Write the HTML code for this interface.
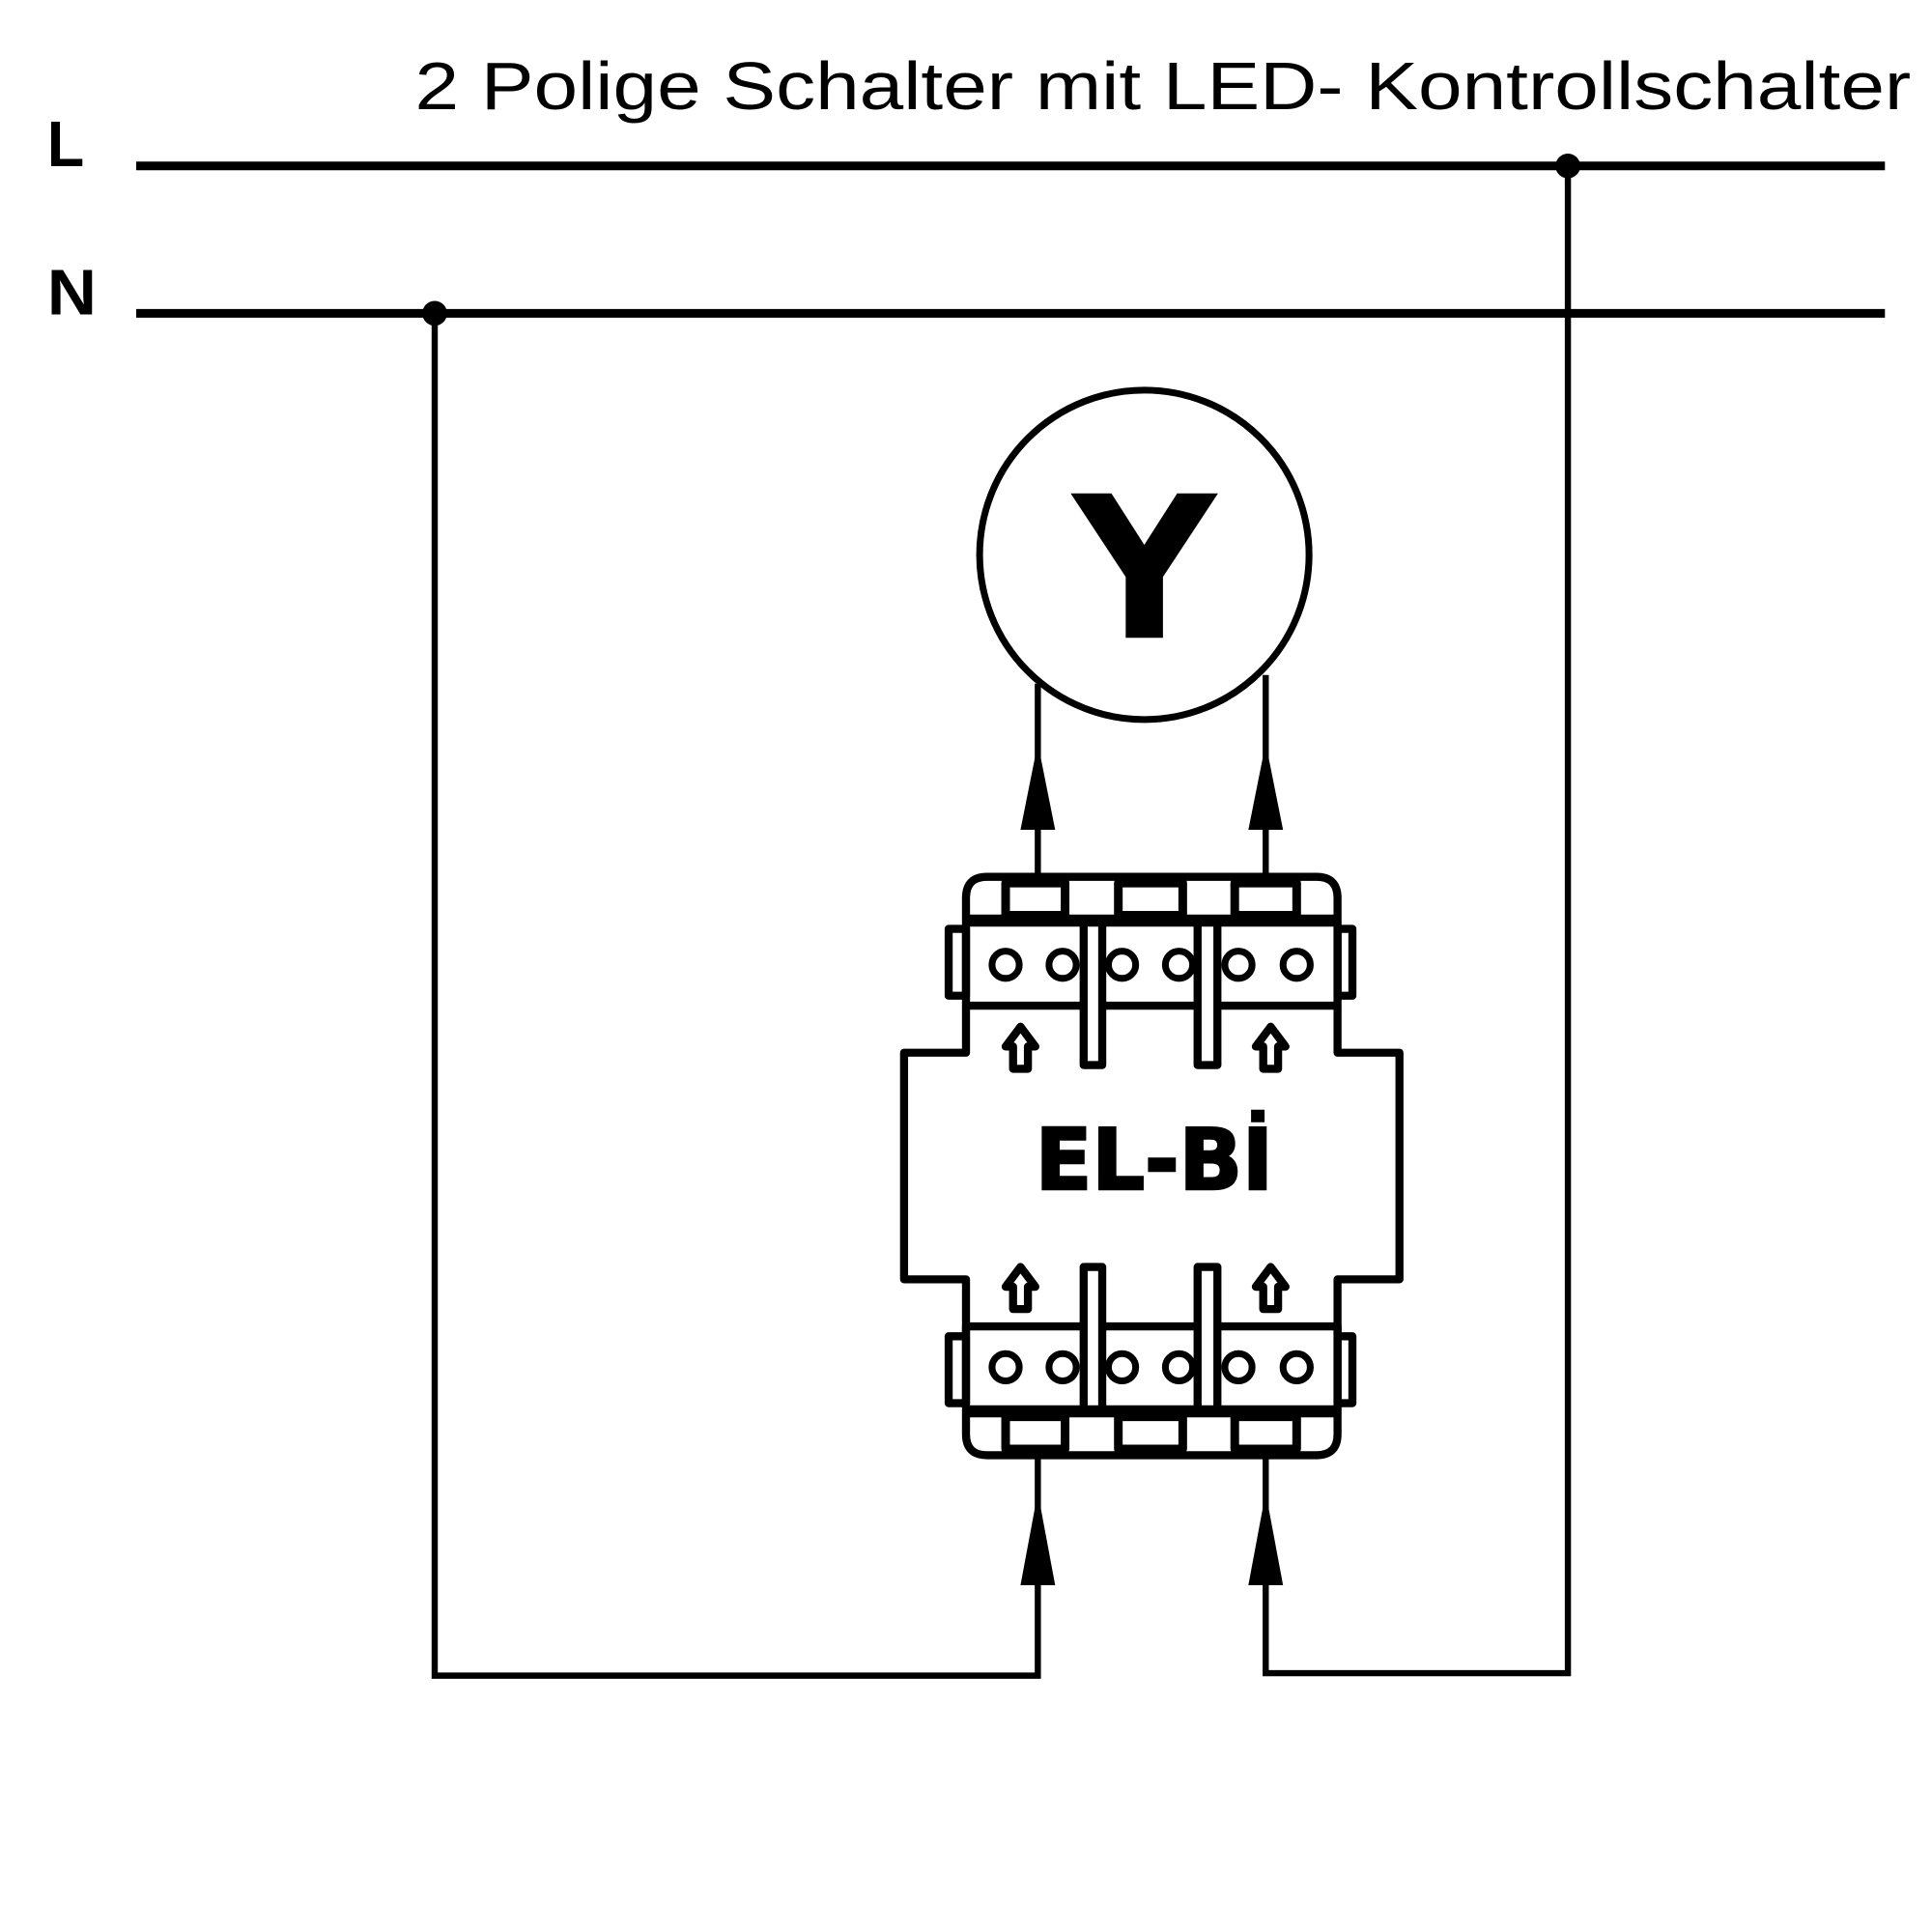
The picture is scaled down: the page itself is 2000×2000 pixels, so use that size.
<!DOCTYPE html>
<html><head><meta charset="utf-8"><style>
html,body{margin:0;padding:0;background:#fff;}
svg{display:block;}
</style></head><body>
<svg width="2000" height="2000" viewBox="0 0 1560 1560" xmlns="http://www.w3.org/2000/svg">
<rect width="1560" height="1560" fill="#fff"/>
<text x="335" y="88" font-family="Liberation Sans, sans-serif" font-size="54" textLength="1208" lengthAdjust="spacingAndGlyphs">2 Polige Schalter mit LED- Kontrollschalter</text>
<text x="38" y="134" font-family="Liberation Sans, sans-serif" font-weight="bold" font-size="52" textLength="30" lengthAdjust="spacingAndGlyphs">L</text>
<text x="38" y="254" font-family="Liberation Sans, sans-serif" font-weight="bold" font-size="52" textLength="40" lengthAdjust="spacingAndGlyphs">N</text>
<g stroke="#000" fill="none" stroke-width="7">
<line x1="110" y1="134" x2="1522" y2="134"/>
<line x1="110" y1="253" x2="1522" y2="253"/>
</g>
<circle cx="1266" cy="134" r="10" fill="#000"/>
<circle cx="351" cy="253" r="10" fill="#000"/>
<g stroke="#000" fill="none" stroke-width="5">
<polyline points="351,253 351,1353 838,1353 838,1175"/>
<polyline points="1266,134 1266,1351 1022,1351 1022,1175"/>
<line x1="838" y1="708" x2="838" y2="552"/>
<line x1="1022" y1="708" x2="1022" y2="545"/>
<circle cx="924" cy="448" r="133" stroke-width="5.5"/>
</g>
<g fill="#000">
<polygon points="838,600 824,670 852,670"/>
<polygon points="1022,600 1008,670 1036,670"/>
<polygon points="838,1205 824,1280 852,1280"/>
<polygon points="1022,1205 1008,1280 1036,1280"/>
</g>
<text x="924" y="515" text-anchor="middle" font-family="DejaVu Sans, sans-serif" font-weight="bold" font-size="160">Y</text>
<g id="top" stroke="#000" fill="none" stroke-width="6.5" stroke-linejoin="round">
<path d="M780,745 V725 Q780,708 797,708 H1063 Q1080,708 1080,725 V745"/>
<rect x="812" y="713" width="48" height="26" fill="#fff" stroke-width="7"/>
<rect x="903" y="713" width="52" height="26" fill="#fff" stroke-width="7"/>
<rect x="997" y="713" width="50" height="26" fill="#fff" stroke-width="7"/>
<line x1="780" y1="743" x2="1080" y2="743" stroke-width="9"/>
<rect x="766" y="750" width="14" height="54"/>
<rect x="1080" y="750" width="12" height="54"/>
<rect x="780" y="745" width="300" height="67"/>
<circle cx="812" cy="779" r="11" stroke-width="5.5"/><circle cx="858" cy="779" r="11" stroke-width="5.5"/>
<circle cx="906" cy="779" r="11" stroke-width="5.5"/><circle cx="952" cy="779" r="11" stroke-width="5.5"/>
<circle cx="1000" cy="779" r="11" stroke-width="5.5"/><circle cx="1047" cy="779" r="11" stroke-width="5.5"/>
<rect x="875" y="745" width="15" height="115" fill="#fff"/>
<rect x="967" y="745" width="16" height="115" fill="#fff"/>
</g>
<g stroke="#000" fill="none" stroke-width="6.5" stroke-linejoin="round">
<polyline points="780,812 780,850 730,850 730,1033 780,1033 780,1078"/>
<polyline points="1080,812 1080,850 1130,850 1130,1033 1080,1033 1080,1078"/>
<path d="M818,863 V845 H812 L824,829 L836,845 H830 V863 Z"/>
<path d="M1020,863 V845 H1014 L1026,829 L1038,845 H1032 V863 Z"/>
<path d="M818,1057 V1039 H812 L824,1023 L836,1039 H830 V1057 Z"/>
<path d="M1020,1057 V1039 H1014 L1026,1023 L1038,1039 H1032 V1057 Z"/>
</g>
<use href="#top" transform="translate(0,1883) scale(1,-1)"/>
<text x="932" y="960" text-anchor="middle" font-family="DejaVu Sans, sans-serif" font-weight="bold" font-size="68" stroke="#000" stroke-width="2" textLength="192" lengthAdjust="spacingAndGlyphs">EL-Bİ</text>
</svg>
</body></html>
